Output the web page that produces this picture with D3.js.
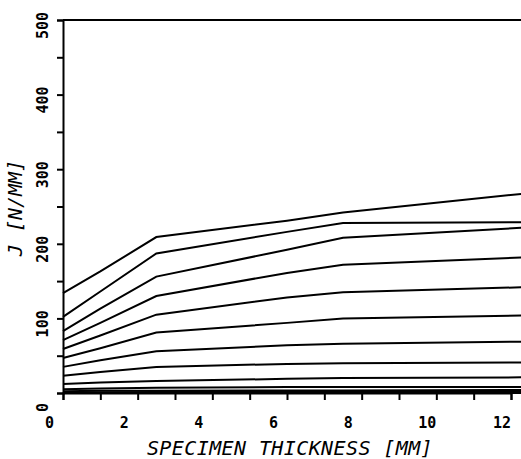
<!DOCTYPE html>
<html>
<head>
<meta charset="utf-8">
<script src="https://cdnjs.cloudflare.com/ajax/libs/d3/7.8.5/d3.min.js"></script>
<style>
  body { margin: 0; background: #fff; }
  text { font-family: "DejaVu Sans Mono", monospace; fill: #000; }
</style>
</head>
<body>
<div id="chart"></div>
<script>
// specimen thickness (mm) where each curve was read
const thickness = [0, 1, 2.5, 6, 7.5, 12.5];

// J values (N/mm), one array per curve, top to bottom
const curve1 = [134, 163, 209, 231, 242, 268];
const curve2 = [102, 136, 187, 216, 228, 229];
const curve3 = [83, 113, 156, 192, 208, 222];
const curve4 = [71, 94, 130, 161, 172, 182];
const curve5 = [59, 77, 105, 128, 135, 142];
const curve6 = [47, 60, 81, 94, 100, 104];
const curve7 = [35, 44, 56, 64, 66, 69];
const curve8 = [23, 28, 35, 39, 40, 41];
const curve9 = [12, 14, 16, 19, 20, 21];
const curve10 = [5, 6, 7, 8, 8, 8];
const curve11 = [2.5, 3, 3, 3.5, 3.5, 4];
const curve12 = [1, 1, 1.5, 1.5, 1.5, 1.5];

const curves = [curve1, curve2, curve3, curve4, curve5, curve6,
  curve7, curve8, curve9, curve10, curve11, curve12];

// tick values
const xTicks = [0, 1, 2, 3, 4, 5, 6, 7, 8, 9, 10, 11, 12];
const xLabels = [0, 2, 4, 6, 8, 10, 12];
const yTicks = [0, 50, 100, 150, 200, 250, 300, 350, 400, 450, 500];
const yLabels = [0, 100, 200, 300, 400, 500];

const svgWidth = 521;
const svgHeight = 459;

const margin = { top: 20, right: 8, bottom: 66, left: 63 };
const width = svgWidth - margin.left - margin.right;
const height = svgHeight - margin.top - margin.bottom;

const svg = d3.select("#chart")
  .append("svg")
  .attr("width", svgWidth)
  .attr("height", svgHeight);

const chartGroup = svg.append("g")
  .attr("transform", `translate(${margin.left}, ${margin.top})`);

// scales
const xScale = d3.scaleLinear()
  .domain([0, 12])
  .range([0, width - 2]);

const yScale = d3.scaleLinear()
  .domain([0, 500])
  .range([height, 0]);

// axes, labels drawn separately below
const bottomAxis = d3.axisBottom(xScale)
  .tickValues(xTicks)
  .tickSize(7)
  .tickFormat("");

const leftAxis = d3.axisLeft(yScale)
  .tickValues(yTicks)
  .tickSize(6)
  .tickFormat("");

const xAxisG = chartGroup.append("g")
  .attr("transform", `translate(0, ${height})`)
  .call(bottomAxis);

const yAxisG = chartGroup.append("g")
  .call(leftAxis);

[xAxisG, yAxisG].forEach(g => {
  g.select(".domain").attr("stroke", "#000").attr("stroke-width", 2);
  g.selectAll(".tick line").attr("stroke", "#000").attr("stroke-width", 2);
});

// stretch the bottom axis to the edge
chartGroup.append("line")
  .attr("x1", 0)
  .attr("x2", svgWidth)
  .attr("y1", height)
  .attr("y2", height)
  .attr("stroke", "#000")
  .attr("stroke-width", 2);

// top frame line
chartGroup.append("line")
  .attr("x1", 0)
  .attr("x2", svgWidth)
  .attr("y1", 0)
  .attr("y2", 0)
  .attr("stroke", "#000")
  .attr("stroke-width", 2);

// x tick labels (plotter puts them left of the tick)
chartGroup.selectAll(".xlab")
  .data(xLabels)
  .enter()
  .append("text")
  .attr("class", "xlab")
  .attr("x", d => xScale(d) - 18)
  .attr("y", height + 35)
  .attr("font-size", 15)
  .attr("font-weight", "bold")
  .text(d => d);

// y tick labels, rotated, start just below the tick
chartGroup.selectAll(".ylab")
  .data(yLabels)
  .enter()
  .append("text")
  .attr("class", "ylab")
  .attr("transform", d => `translate(-15, ${yScale(d) + 19}) rotate(-90)`)
  .attr("font-size", 15)
  .attr("font-weight", "bold")
  .text(d => d);

// curves
const line = d3.line()
  .x((d, i) => xScale(thickness[i]))
  .y(d => yScale(d));

chartGroup.selectAll(".curve")
  .data(curves)
  .enter()
  .append("path")
  .attr("class", "curve")
  .attr("d", line)
  .attr("fill", "none")
  .attr("stroke", "#000")
  .attr("stroke-width", 2);

// axis titles
svg.append("text")
  .attr("x", 290)
  .attr("y", 455)
  .attr("text-anchor", "middle")
  .attr("font-size", 20)
  .attr("font-style", "italic")
  .attr("letter-spacing", 0.4)
  .text("SPECIMEN THICKNESS [MM]");

svg.append("text")
  .attr("transform", "translate(22, 208) rotate(-90)")
  .attr("text-anchor", "middle")
  .attr("font-size", 20)
  .attr("font-style", "italic")
  .text("J [N/MM]");
</script>
</body>
</html>
